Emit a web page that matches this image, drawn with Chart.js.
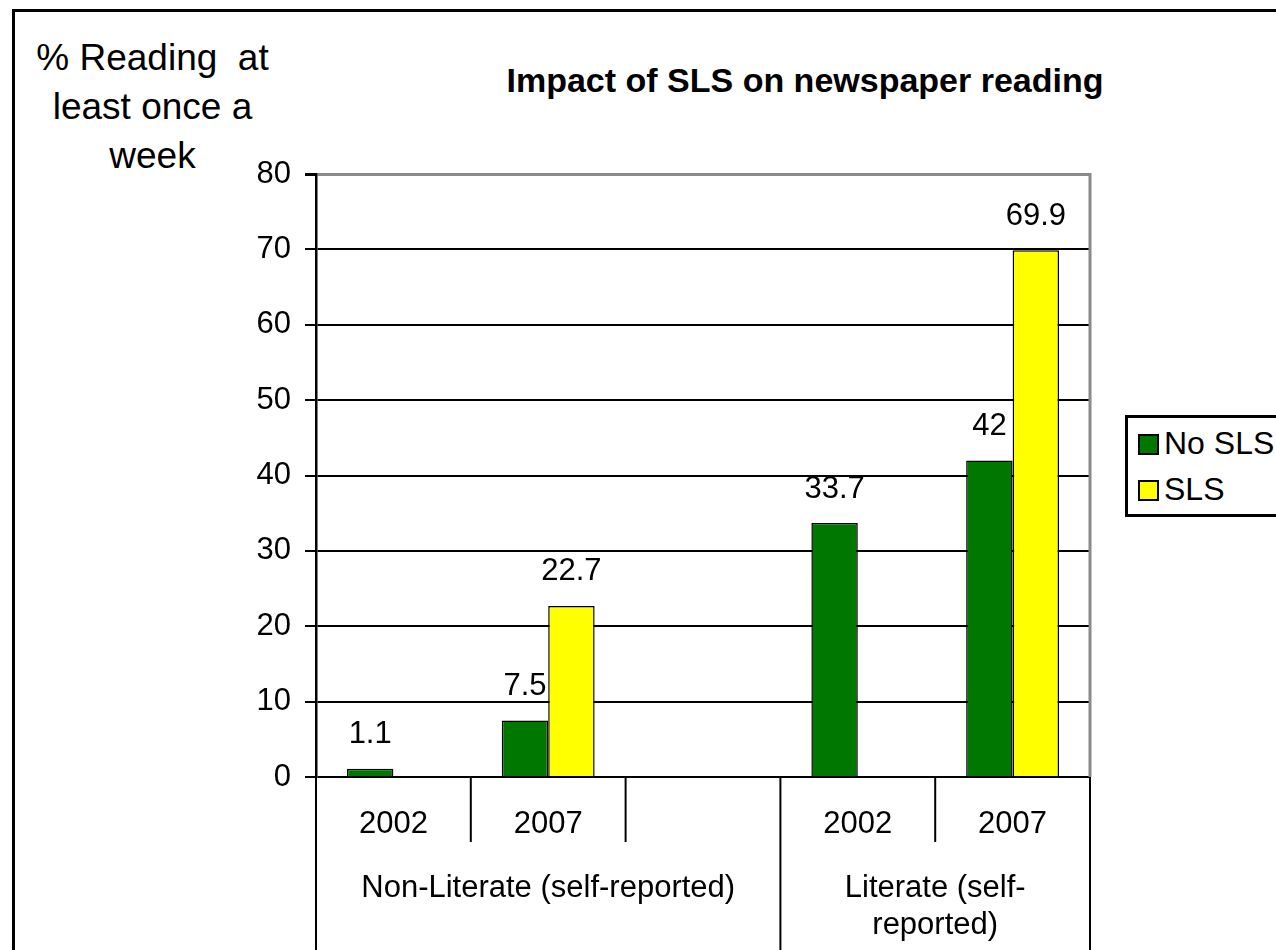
<!DOCTYPE html>
<html>
<head>
<meta charset="utf-8">
<script src="https://cdn.jsdelivr.net/npm/chart.js@4.4.1/dist/chart.umd.min.js"></script>
<style>
  html, body { margin: 0; padding: 0; background: #fff; }
  body { width: 1276px; height: 950px; overflow: hidden; position: relative; font-family: "Liberation Sans", Arial, sans-serif; }
  .frame { position: absolute; left: 12px; top: 9px; width: 1400px; height: 1100px; border: 3px solid #000; }
  #chart { position: absolute; left: 0; top: 0; }
  .title { position: absolute; left: 405px; top: 61px; width: 800px; text-align: center; font-weight: bold; font-size: 34px; line-height: 38px; color: #000; }
  .ytitle { position: absolute; left: 20px; top: 33px; width: 265px; text-align: center; font-size: 37px; line-height: 49px; white-space: pre; color: #000; }
  .legend { position: absolute; left: 1125px; top: 415px; width: 200px; height: 96px; border: 3px solid #000; }
  .legend .item { position: absolute; left: 10px; font-size: 32px; line-height: 36px; height: 36px; }
  .legend .sw { display: inline-block; width: 17px; height: 17px; border: 2px solid #000; vertical-align: -1px; margin-right: 5px; }
</style>
</head>
<body>
<div class="frame"></div>
<div class="title">Impact of SLS on newspaper reading</div>
<div class="ytitle">% Reading  at
least once a
week</div>
<div class="legend" id="legend"></div>
<canvas id="chart" width="1276" height="950"></canvas>
<script>
// data
const years = ["2002", "2007", "", "2002", "2007"];
const noSls = [1.1, 7.5, null, 33.7, 42];
const sls = [null, 22.7, null, null, 69.9];
const yTicks = [0, 10, 20, 30, 40, 50, 60, 70, 80];
// groups: label lines, first category index, number of categories
const groupLabels = [["Non-Literate (self-reported)"], ["Literate (self-", "reported)"]];
const groupStart = [0, 3];
const groupSize = [3, 2];

const FONT = "'Liberation Sans', Arial, sans-serif";

const extras = {
  id: "extras",
  afterDatasetsDraw(chart) {
    const ctx = chart.ctx;
    const area = chart.chartArea;
    const x = chart.scales.x;
    ctx.save();
    // value labels above bars
    ctx.font = "31px " + FONT;
    ctx.fillStyle = "#000";
    ctx.textAlign = "center";
    ctx.textBaseline = "middle";
    chart.data.datasets.forEach((ds, i) => {
      chart.getDatasetMeta(i).data.forEach((bar, j) => {
        const v = ds.data[j];
        if (v === null || v === undefined) return;
        ctx.fillText(String(v), bar.x, bar.y - 34);
      });
    });
    // right border of plot area
    ctx.strokeStyle = "#8a8a8a";
    ctx.lineWidth = 3;
    ctx.beginPath();
    ctx.moveTo(area.right, area.top - 1);
    ctx.lineTo(area.right, area.bottom);
    ctx.stroke();
    // category separators below the axis
    const half = (x.getPixelForValue(1) - x.getPixelForValue(0)) / 2;
    const groupEdges = [];
    groupStart.forEach((s, g) => {
      groupEdges.push(s);
      groupEdges.push(s + groupSize[g]);
    });
    ctx.strokeStyle = "#000";
    ctx.lineWidth = 2;
    for (let i = 0; i <= years.length; i++) {
      const px = x.getPixelForValue(0) - half + i * 2 * half;
      const long = groupEdges.indexOf(i) >= 0;
      ctx.beginPath();
      ctx.moveTo(px, area.bottom);
      ctx.lineTo(px, long ? chart.height : area.bottom + 65);
      ctx.stroke();
    }
    // group labels
    ctx.font = "31px " + FONT;
    groupLabels.forEach((lines, g) => {
      const left = x.getPixelForValue(groupStart[g]) - half;
      const right = left + groupSize[g] * 2 * half;
      lines.forEach((t, k) => {
        ctx.fillText(t, (left + right) / 2, area.bottom + 111 + k * 37);
      });
    });
    ctx.restore();
  }
};

const chart = new Chart(document.getElementById("chart").getContext("2d"), {
  type: "bar",
  data: {
    labels: years,
    datasets: [
      { label: "No SLS", data: noSls, backgroundColor: "#007800", borderColor: "#000", borderWidth: 1.5 },
      { label: "SLS", data: sls, backgroundColor: "#ffff00", borderColor: "#000", borderWidth: 1.5 }
    ]
  },
  options: {
    responsive: false,
    animation: false,
    devicePixelRatio: 1,
    categoryPercentage: 0.6,
    barPercentage: 1,
    layout: { padding: { top: 174, right: 186, bottom: 0, left: 0 } },
    plugins: {
      legend: { display: false },
      tooltip: { enabled: false },
      title: { display: false }
    },
    scales: {
      x: {
        offset: true,
        grid: { display: false, drawTicks: false },
        border: { display: false },
        ticks: { color: "#000", font: { family: FONT, size: 31 }, padding: 29, maxRotation: 0, autoSkip: false },
        afterFit(s) { s.height = 173; }
      },
      y: {
        min: 0,
        max: 80,
        afterBuildTicks(s) { s.ticks = yTicks.map(v => ({ value: v })); },
        grid: {
          color: c => (c.tick && c.tick.value === 80 ? "#8a8a8a" : "#000"),
          lineWidth: c => (c.tick && c.tick.value === 80 ? 3 : 2),
          tickColor: "#000",
          tickLength: 11
        },
        border: { color: "#000", width: 2.5 },
        ticks: { color: "#000", font: { family: FONT, size: 31 }, padding: 14 },
        afterFit(s) { s.width = 316; }
      }
    }
  },
  plugins: [extras]
});

// html legend built from the datasets
const legend = document.getElementById("legend");
chart.data.datasets.forEach((ds, i) => {
  const item = document.createElement("div");
  item.className = "item";
  item.style.top = (7 + i * 46) + "px";
  const sw = document.createElement("span");
  sw.className = "sw";
  sw.style.background = ds.backgroundColor;
  item.appendChild(sw);
  item.appendChild(document.createTextNode(ds.label));
  legend.appendChild(item);
});
</script>
</body>
</html>
